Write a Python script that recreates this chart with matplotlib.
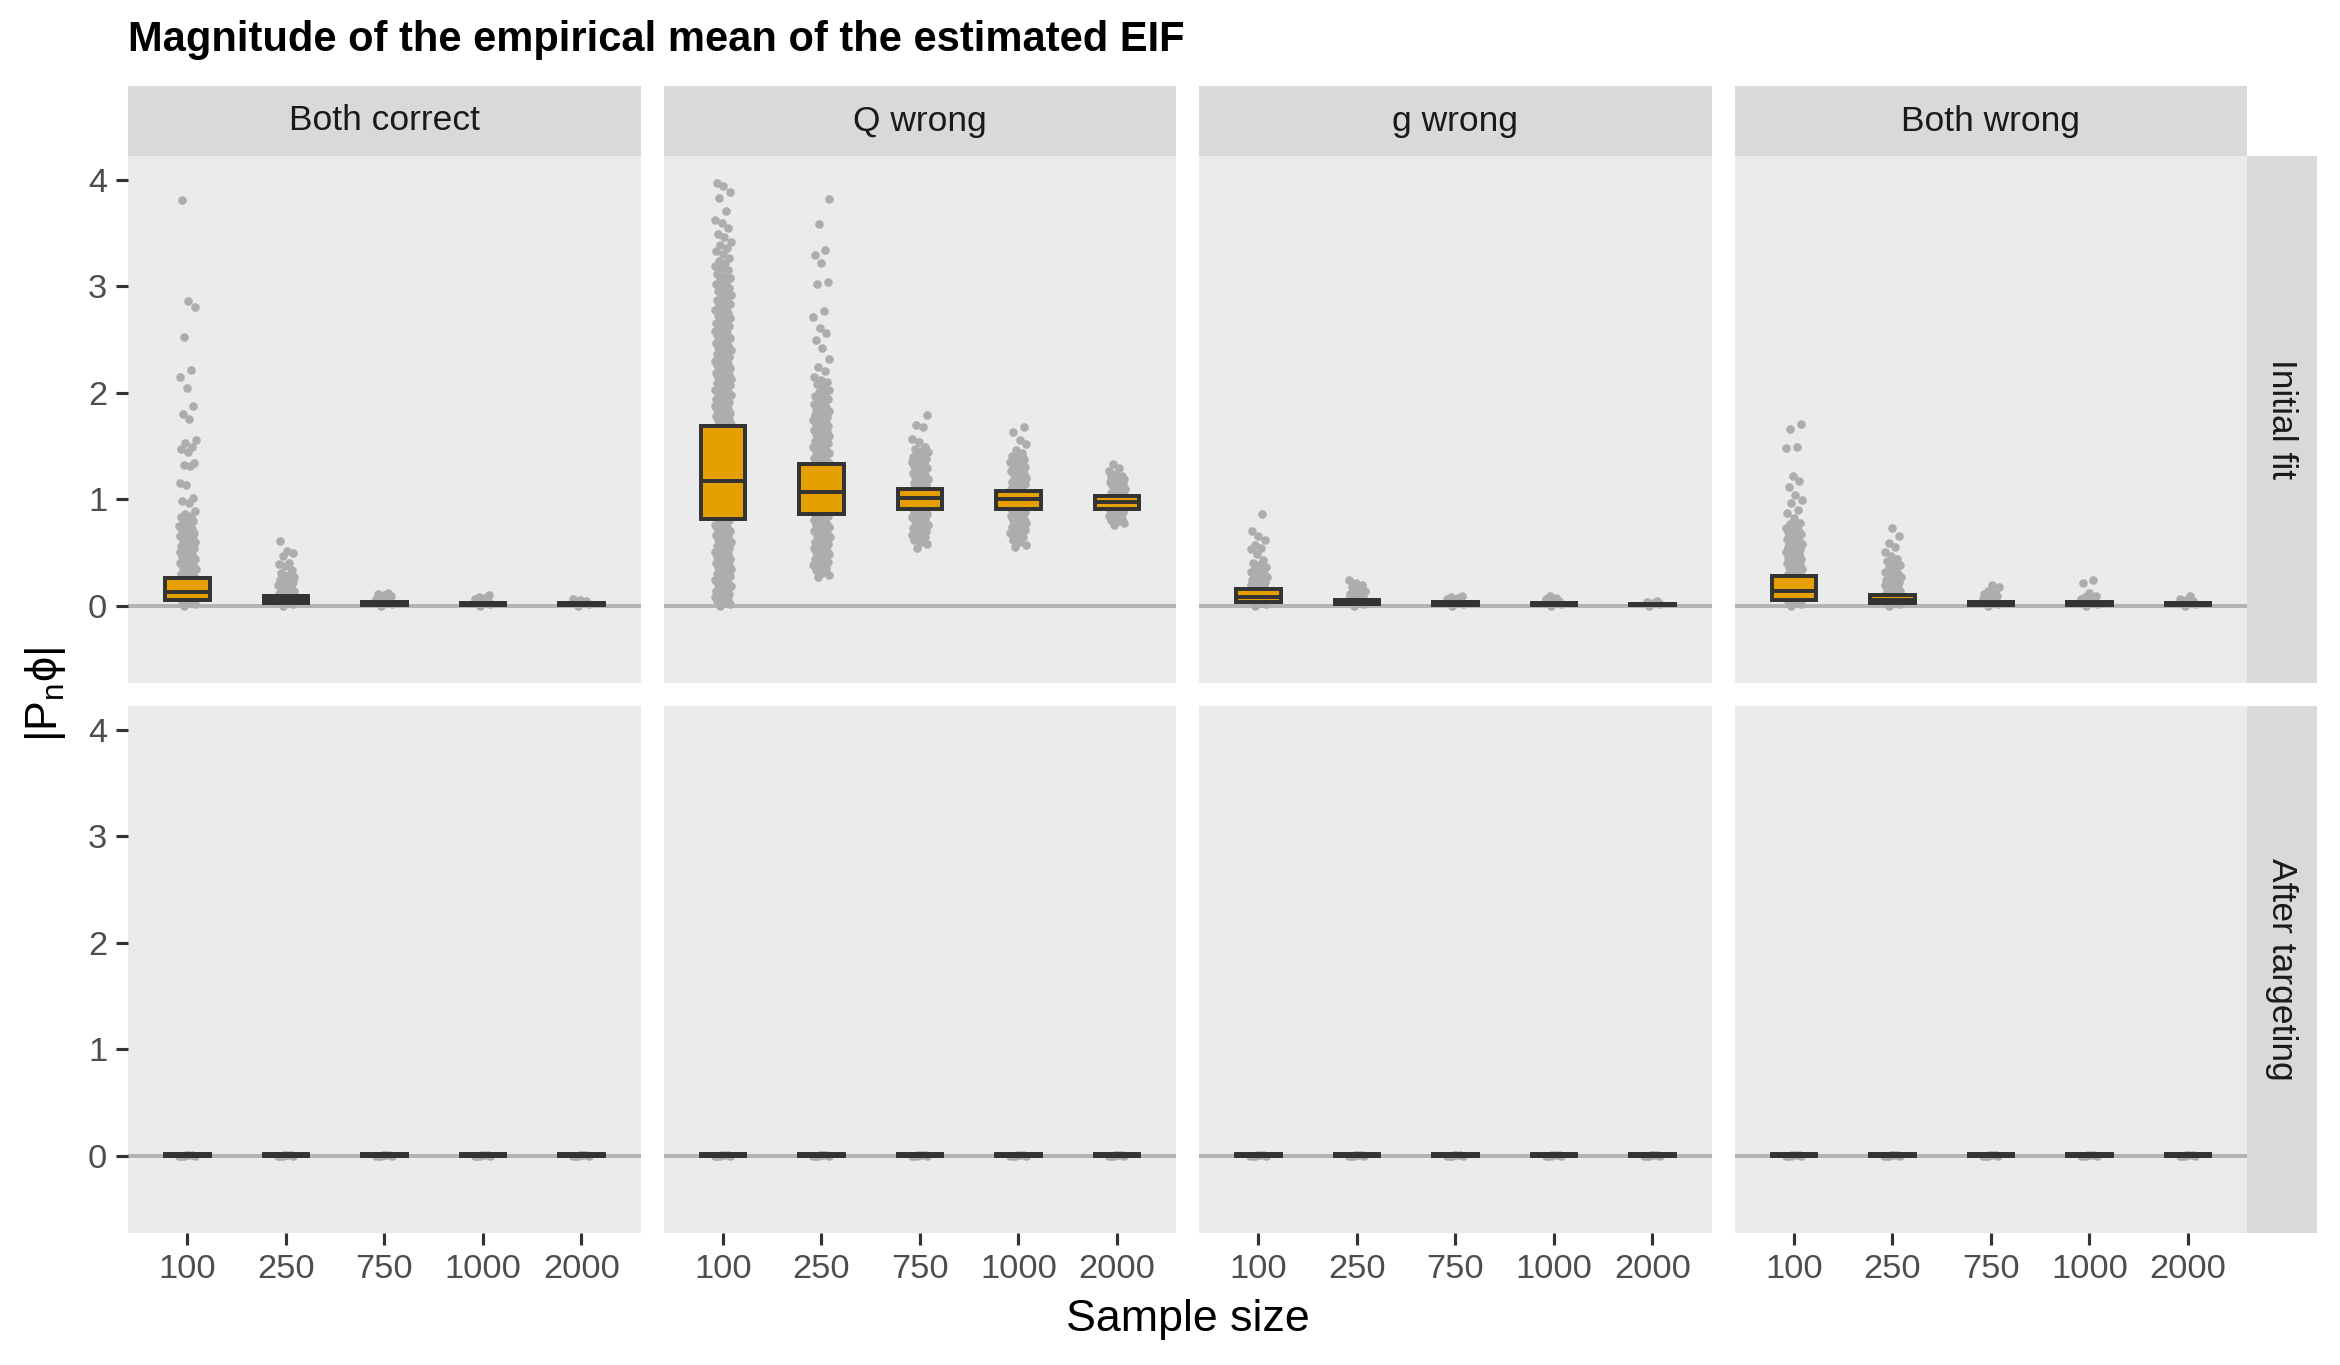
import numpy as np
import matplotlib
matplotlib.use('Agg')
import matplotlib.pyplot as plt

plt.rcParams['font.family'] = ['Liberation Sans', 'DejaVu Sans']
plt.rcParams['mathtext.fontset'] = 'custom'
plt.rcParams['mathtext.rm'] = 'Liberation Sans'
plt.rcParams['mathtext.it'] = 'Liberation Sans'

# Categorie
sample_sizes = ['100', '250', '750', '1000', '2000']
scenarios = ['Both correct', 'Q wrong', 'g wrong', 'Both wrong']
stages = ['Initial fit', 'After targeting']

# Punti (|P_n phi|), riga "Initial fit"
pts_bc_100 = [0.00, 0.01, 0.03, 0.04, 0.05, 0.06, 0.08, 0.09, 0.10, 0.11, 0.13, 0.14, 0.15, 0.16,
              0.18, 0.19, 0.20, 0.21, 0.23, 0.24, 0.25, 0.26, 0.28, 0.29, 0.30, 0.31, 0.33, 0.34,
              0.35, 0.36, 0.38, 0.39, 0.40, 0.41, 0.43, 0.44, 0.45, 0.46, 0.48, 0.49, 0.50, 0.51,
              0.53, 0.54, 0.55, 0.56, 0.58, 0.59, 0.60, 0.61, 0.62, 0.63, 0.64, 0.65, 0.66, 0.67,
              0.68, 0.70, 0.71, 0.72, 0.74, 0.75, 0.77, 0.78, 0.79, 0.81, 0.83, 0.84, 0.86, 0.89,
              0.96, 0.98, 1.01, 1.13, 1.15, 1.31, 1.32, 1.34, 1.44, 1.47, 1.49, 1.53, 1.56, 1.75,
              1.80, 1.88, 2.04, 2.15, 2.21, 2.52, 2.81, 2.86, 3.81]
pts_bc_250 = [0.00, 0.01, 0.02, 0.03, 0.04, 0.05, 0.06, 0.07, 0.08, 0.09, 0.10, 0.11, 0.12, 0.13,
              0.14, 0.15, 0.16, 0.17, 0.18, 0.19, 0.20, 0.21, 0.22, 0.23, 0.24, 0.25, 0.26, 0.27,
              0.29, 0.31, 0.33, 0.37, 0.39, 0.40, 0.47, 0.49, 0.51, 0.61]
pts_bc_750 = [0.00, 0.01, 0.02, 0.03, 0.04, 0.05, 0.06, 0.07, 0.08, 0.09, 0.10, 0.11, 0.12]
pts_bc_1000 = [0.00, 0.01, 0.02, 0.03, 0.04, 0.05, 0.06, 0.07, 0.08, 0.10]
pts_bc_2000 = [0.00, 0.01, 0.02, 0.03, 0.04, 0.05, 0.06]

pts_qw_100 = [0.00, 0.01, 0.03, 0.04, 0.05, 0.06, 0.08, 0.09, 0.10, 0.11, 0.13, 0.14, 0.15, 0.16,
              0.18, 0.19, 0.20, 0.21, 0.23, 0.24, 0.25, 0.26, 0.28, 0.29, 0.30, 0.31, 0.33, 0.34,
              0.35, 0.36, 0.38, 0.39, 0.40, 0.41, 0.43, 0.44, 0.45, 0.46, 0.48, 0.49, 0.50, 0.51,
              0.53, 0.54, 0.55, 0.56, 0.58, 0.59, 0.60, 0.61, 0.63, 0.64, 0.65, 0.66, 0.68, 0.69,
              0.70, 0.71, 0.73, 0.74, 0.75, 0.76, 0.78, 0.79, 0.80, 0.81, 0.83, 0.84, 0.85, 0.86,
              0.88, 0.89, 0.90, 0.91, 0.93, 0.94, 0.95, 0.96, 0.98, 0.99, 1.00, 1.01, 1.03, 1.04,
              1.05, 1.06, 1.08, 1.09, 1.10, 1.11, 1.13, 1.14, 1.15, 1.16, 1.18, 1.19, 1.20, 1.21,
              1.23, 1.24, 1.25, 1.26, 1.28, 1.29, 1.30, 1.31, 1.33, 1.34, 1.35, 1.36, 1.38, 1.39,
              1.40, 1.41, 1.43, 1.44, 1.45, 1.46, 1.48, 1.49, 1.50, 1.51, 1.53, 1.54, 1.55, 1.56,
              1.58, 1.59, 1.60, 1.61, 1.63, 1.64, 1.65, 1.66, 1.68, 1.69, 1.70, 1.71, 1.73, 1.74,
              1.75, 1.76, 1.78, 1.79, 1.80, 1.81, 1.83, 1.84, 1.85, 1.86, 1.88, 1.89, 1.90, 1.91,
              1.93, 1.94, 1.95, 1.96, 1.98, 1.99, 2.00, 2.01, 2.02, 2.03, 2.05, 2.06, 2.07, 2.08,
              2.09, 2.11, 2.12, 2.13, 2.14, 2.15, 2.17, 2.18, 2.19, 2.20, 2.22, 2.23, 2.24, 2.26,
              2.27, 2.28, 2.30, 2.31, 2.32, 2.34, 2.35, 2.36, 2.38, 2.39, 2.40, 2.42, 2.43, 2.44,
              2.46, 2.47, 2.49, 2.50, 2.51, 2.53, 2.54, 2.56, 2.57, 2.58, 2.60, 2.61, 2.63, 2.64,
              2.66, 2.67, 2.69, 2.70, 2.72, 2.73, 2.75, 2.77, 2.78, 2.80, 2.82, 2.83, 2.85, 2.87,
              2.89, 2.90, 2.92, 2.94, 2.96, 2.98, 3.00, 3.02, 3.04, 3.06, 3.08, 3.10, 3.12, 3.15,
              3.17, 3.19, 3.22, 3.24, 3.27, 3.30, 3.33, 3.36, 3.39, 3.42, 3.46, 3.49, 3.55, 3.60,
              3.62, 3.71, 3.83, 3.89, 3.94, 3.97]
pts_qw_250 = [0.27, 0.29, 0.31, 0.33, 0.35, 0.36, 0.38, 0.39, 0.40, 0.41, 0.43, 0.44, 0.45, 0.46,
              0.48, 0.49, 0.50, 0.51, 0.53, 0.54, 0.55, 0.56, 0.58, 0.59, 0.60, 0.61, 0.63, 0.64,
              0.65, 0.66, 0.68, 0.69, 0.70, 0.71, 0.73, 0.74, 0.75, 0.76, 0.78, 0.79, 0.80, 0.81,
              0.83, 0.84, 0.85, 0.86, 0.88, 0.89, 0.90, 0.91, 0.93, 0.94, 0.95, 0.96, 0.98, 0.99,
              1.00, 1.01, 1.03, 1.04, 1.05, 1.06, 1.08, 1.09, 1.10, 1.11, 1.13, 1.14, 1.15, 1.16,
              1.18, 1.19, 1.20, 1.21, 1.23, 1.24, 1.25, 1.26, 1.28, 1.29, 1.30, 1.31, 1.33, 1.34,
              1.35, 1.36, 1.38, 1.39, 1.40, 1.41, 1.43, 1.44, 1.45, 1.46, 1.48, 1.49, 1.50, 1.51,
              1.53, 1.54, 1.55, 1.56, 1.58, 1.59, 1.60, 1.61, 1.63, 1.64, 1.65, 1.66, 1.68, 1.69,
              1.70, 1.71, 1.72, 1.73, 1.74, 1.75, 1.76, 1.77, 1.78, 1.79, 1.80, 1.81, 1.83, 1.84,
              1.85, 1.87, 1.88, 1.89, 1.91, 1.92, 1.94, 1.95, 1.97, 1.99, 2.01, 2.03, 2.05, 2.08,
              2.10, 2.12, 2.15, 2.20, 2.24, 2.32, 2.42, 2.50, 2.56, 2.61, 2.71, 2.77, 3.02, 3.04,
              3.22, 3.29, 3.34, 3.59, 3.82]
pts_qw_750 = [0.54, 0.58, 0.60, 0.62, 0.64, 0.65, 0.66, 0.68, 0.69, 0.70, 0.71, 0.73, 0.74, 0.75,
              0.76, 0.78, 0.79, 0.80, 0.81, 0.83, 0.84, 0.85, 0.86, 0.88, 0.89, 0.90, 0.91, 0.93,
              0.94, 0.95, 0.96, 0.98, 0.99, 1.00, 1.01, 1.03, 1.04, 1.05, 1.06, 1.08, 1.09, 1.10,
              1.11, 1.13, 1.14, 1.15, 1.16, 1.18, 1.19, 1.20, 1.21, 1.23, 1.24, 1.25, 1.26, 1.28,
              1.29, 1.30, 1.31, 1.33, 1.34, 1.35, 1.36, 1.37, 1.38, 1.39, 1.40, 1.41, 1.43, 1.44,
              1.45, 1.47, 1.49, 1.54, 1.57, 1.68, 1.70, 1.79]
pts_qw_1000 = [0.55, 0.57, 0.60, 0.62, 0.64, 0.66, 0.68, 0.69, 0.70, 0.71, 0.73, 0.74, 0.75, 0.76,
               0.78, 0.79, 0.80, 0.81, 0.83, 0.84, 0.85, 0.86, 0.88, 0.89, 0.90, 0.91, 0.93, 0.94,
               0.95, 0.96, 0.98, 0.99, 1.00, 1.01, 1.03, 1.04, 1.05, 1.06, 1.08, 1.09, 1.10, 1.11,
               1.13, 1.14, 1.15, 1.16, 1.18, 1.19, 1.20, 1.21, 1.23, 1.24, 1.25, 1.26, 1.28, 1.29,
               1.30, 1.31, 1.32, 1.33, 1.34, 1.35, 1.36, 1.37, 1.38, 1.40, 1.41, 1.43, 1.46, 1.52,
               1.56, 1.63, 1.68]
pts_qw_2000 = [0.76, 0.78, 0.79, 0.80, 0.81, 0.83, 0.84, 0.85, 0.86, 0.88, 0.89, 0.90, 0.91, 0.93,
               0.94, 0.95, 0.96, 0.98, 0.99, 1.00, 1.01, 1.03, 1.04, 1.05, 1.06, 1.08, 1.09, 1.10,
               1.11, 1.13, 1.14, 1.15, 1.16, 1.17, 1.18, 1.19, 1.20, 1.21, 1.22, 1.24, 1.26, 1.29,
               1.33]

pts_gw_100 = [0.00, 0.01, 0.02, 0.03, 0.04, 0.05, 0.06, 0.07, 0.08, 0.09, 0.10, 0.11, 0.12, 0.13,
              0.14, 0.15, 0.16, 0.17, 0.18, 0.19, 0.20, 0.21, 0.22, 0.23, 0.24, 0.25, 0.26, 0.27,
              0.28, 0.29, 0.30, 0.31, 0.32, 0.33, 0.34, 0.36, 0.38, 0.40, 0.43, 0.48, 0.53, 0.54,
              0.57, 0.62, 0.65, 0.70, 0.86]
pts_gw_250 = [0.00, 0.01, 0.02, 0.03, 0.04, 0.05, 0.06, 0.07, 0.08, 0.09, 0.10, 0.11, 0.12, 0.13,
              0.14, 0.15, 0.17, 0.19, 0.21, 0.24]
pts_gw_750 = [0.00, 0.01, 0.02, 0.03, 0.04, 0.05, 0.06, 0.07, 0.08, 0.09]
pts_gw_1000 = [0.00, 0.01, 0.02, 0.03, 0.04, 0.05, 0.06, 0.07, 0.09]
pts_gw_2000 = [0.00, 0.01, 0.02, 0.03, 0.04]

pts_bw_100 = [0.00, 0.01, 0.03, 0.04, 0.05, 0.06, 0.08, 0.09, 0.10, 0.11, 0.13, 0.14, 0.15, 0.16,
              0.18, 0.19, 0.20, 0.21, 0.23, 0.24, 0.25, 0.26, 0.28, 0.29, 0.30, 0.31, 0.33, 0.34,
              0.35, 0.36, 0.38, 0.39, 0.40, 0.41, 0.43, 0.44, 0.45, 0.46, 0.48, 0.49, 0.50, 0.51,
              0.52, 0.53, 0.54, 0.55, 0.56, 0.57, 0.58, 0.59, 0.60, 0.61, 0.62, 0.63, 0.64, 0.65,
              0.67, 0.68, 0.69, 0.71, 0.72, 0.73, 0.75, 0.77, 0.78, 0.82, 0.87, 0.90, 0.96, 0.99,
              1.04, 1.11, 1.17, 1.22, 1.48, 1.49, 1.66, 1.71]
pts_bw_250 = [0.00, 0.01, 0.02, 0.03, 0.04, 0.05, 0.06, 0.07, 0.08, 0.09, 0.10, 0.11, 0.12, 0.13,
              0.14, 0.15, 0.16, 0.17, 0.18, 0.19, 0.20, 0.21, 0.22, 0.23, 0.24, 0.25, 0.26, 0.27,
              0.28, 0.29, 0.30, 0.31, 0.32, 0.34, 0.36, 0.38, 0.40, 0.42, 0.44, 0.47, 0.50, 0.55,
              0.59, 0.65, 0.73]
pts_bw_750 = [0.00, 0.01, 0.02, 0.03, 0.04, 0.05, 0.06, 0.07, 0.08, 0.09, 0.10, 0.11, 0.12, 0.14,
              0.17, 0.19]
pts_bw_1000 = [0.00, 0.01, 0.02, 0.03, 0.04, 0.05, 0.06, 0.07, 0.08, 0.09, 0.12, 0.21, 0.24]
pts_bw_2000 = [0.00, 0.01, 0.02, 0.03, 0.04, 0.05, 0.06, 0.09]

# Riga "After targeting": tutto schiacciato su zero
pts_after = [0.000, 0.000, 0.001, 0.000, 0.002, 0.001, 0.000]

# Box (q1, mediana, q3) per scenario, riga "Initial fit"
box_bc = [(0.05, 0.125, 0.26), (0.02, 0.05, 0.09), (0.005, 0.015, 0.03), (0.005, 0.012, 0.025), (0.004, 0.01, 0.02)]
box_qw = [(0.81, 1.17, 1.69), (0.86, 1.07, 1.33), (0.91, 1.01, 1.10), (0.91, 1.00, 1.08), (0.91, 0.97, 1.03)]
box_gw = [(0.03, 0.085, 0.16), (0.01, 0.03, 0.05), (0.004, 0.012, 0.03), (0.004, 0.01, 0.02), (0.003, 0.008, 0.015)]
box_bw = [(0.056, 0.135, 0.28), (0.02, 0.055, 0.10), (0.005, 0.015, 0.035), (0.005, 0.012, 0.03), (0.004, 0.01, 0.025)]
box_after = (0.0, 0.0, 0.015)

initial_pts = [
    [pts_bc_100, pts_bc_250, pts_bc_750, pts_bc_1000, pts_bc_2000],
    [pts_qw_100, pts_qw_250, pts_qw_750, pts_qw_1000, pts_qw_2000],
    [pts_gw_100, pts_gw_250, pts_gw_750, pts_gw_1000, pts_gw_2000],
    [pts_bw_100, pts_bw_250, pts_bw_750, pts_bw_1000, pts_bw_2000],
]
initial_box = [box_bc, box_qw, box_gw, box_bw]

# Stile (tipo ggplot theme_gray)
PANEL_BG = '#EBEBEB'
STRIP_BG = '#D9D9D9'
BOX_FILL = '#E69F00'
DARK = '#333333'
POINT_COL = '#ADADAD'
JITTER = 0.085

W, H = 2340, 1365
fig = plt.figure(figsize=(W / 150, H / 150), dpi=150)


def rect(x0, y0, x1, y1):
    # coordinate in pixel (origine in alto a sinistra) -> frazioni di figura
    return [x0 / W, 1 - y1 / H, (x1 - x0) / W, (y1 - y0) / H]


panel_w = 512.2
gap = 23.3
col_x = [128.3 + k * (panel_w + gap) for k in range(4)]
row_y = [(156, 682.7), (705.7, 1232.7)]
strip_top = (86, 156)
strip_right = (col_x[3] + panel_w, 2316.7)


def jitter_offsets(n):
    # jitter deterministico (sequenza aurea) al posto di quello casuale
    k = np.arange(n)
    return JITTER * (2 * ((k * 0.618034 + 0.31) % 1.0) - 1)


def draw_group(ax, pos, values, stats):
    vals = np.asarray(values, dtype=float)
    ax.scatter(pos + jitter_offsets(len(vals)), vals, s=17, color=POINT_COL,
               linewidths=0, zorder=2)
    q1, med, q3 = stats
    bstats = [dict(med=med, q1=q1, q3=q3, whislo=q1, whishi=q3, fliers=[])]
    ax.bxp(bstats, positions=[pos], widths=0.45, patch_artist=True,
           showcaps=False, showfliers=False, manage_ticks=False,
           boxprops=dict(facecolor=BOX_FILL, edgecolor=DARK, linewidth=1.9),
           medianprops=dict(color=DARK, linewidth=1.9, solid_capstyle='butt'),
           whiskerprops=dict(linewidth=0), zorder=3)


def strip_axes(r):
    sax = fig.add_axes(r)
    sax.set_facecolor(STRIP_BG)
    sax.set_xticks([])
    sax.set_yticks([])
    for sp in sax.spines.values():
        sp.set_visible(False)
    return sax


for r, stage in enumerate(stages):
    y0, y1 = row_y[r]
    for c, scen in enumerate(scenarios):
        ax = fig.add_axes(rect(col_x[c], y0, col_x[c] + panel_w, y1))
        ax.set_facecolor(PANEL_BG)
        for sp in ax.spines.values():
            sp.set_visible(False)
        ax.axhline(0, color='#B3B3B3', linewidth=1.9, zorder=1)

        positions = np.arange(1, len(sample_sizes) + 1)
        for i, pos in enumerate(positions):
            if r == 0:
                draw_group(ax, pos, initial_pts[c][i], initial_box[c][i])
            else:
                draw_group(ax, pos, pts_after, box_after)

        ax.set_xlim(0.4, 5.6)
        ax.set_ylim(-0.725, 4.225)
        ax.set_xticks(positions)
        ax.set_yticks([0, 1, 2, 3, 4])
        ax.tick_params(axis='both', colors=DARK, labelcolor='#4D4D4D',
                       labelsize=16.5, length=5.6, width=1.5, pad=4.5)
        if r == 1:
            ax.set_xticklabels(sample_sizes)
        else:
            ax.tick_params(axis='x', length=0, labelbottom=False)
        if c == 0:
            ax.set_yticklabels(['0', '1', '2', '3', '4'])
        else:
            ax.tick_params(axis='y', length=0, labelleft=False)

        # strip in alto
        if r == 0:
            sax = strip_axes(rect(col_x[c], strip_top[0], col_x[c] + panel_w, strip_top[1]))
            sax.text(0.5, 0.5, scen, ha='center', va='center', fontsize=17,
                     color='#1A1A1A', transform=sax.transAxes)

    # strip a destra
    rax = strip_axes(rect(strip_right[0], y0, strip_right[1], y1))
    rax.text(0.5, 0.5, stage, ha='center', va='center', rotation=-90, fontsize=17,
             color='#1A1A1A', transform=rax.transAxes)

fig.text(128.3 / W, 1 - 40 / H, 'Magnitude of the empirical mean of the estimated EIF',
         ha='left', va='center', fontsize=20, fontweight='bold', color='black')
fig.text((col_x[0] + strip_right[0]) / 2 / W, 1 - 1320 / H, 'Sample size', ha='center',
         va='center', fontsize=21.5, color='black')
fig.text(45 / W, 1 - 695 / H, r'$|P_n\phi|$', ha='center', va='center', rotation=90,
         fontsize=21.5, color='black')

fig.savefig('out.png', dpi=150, facecolor='white')
